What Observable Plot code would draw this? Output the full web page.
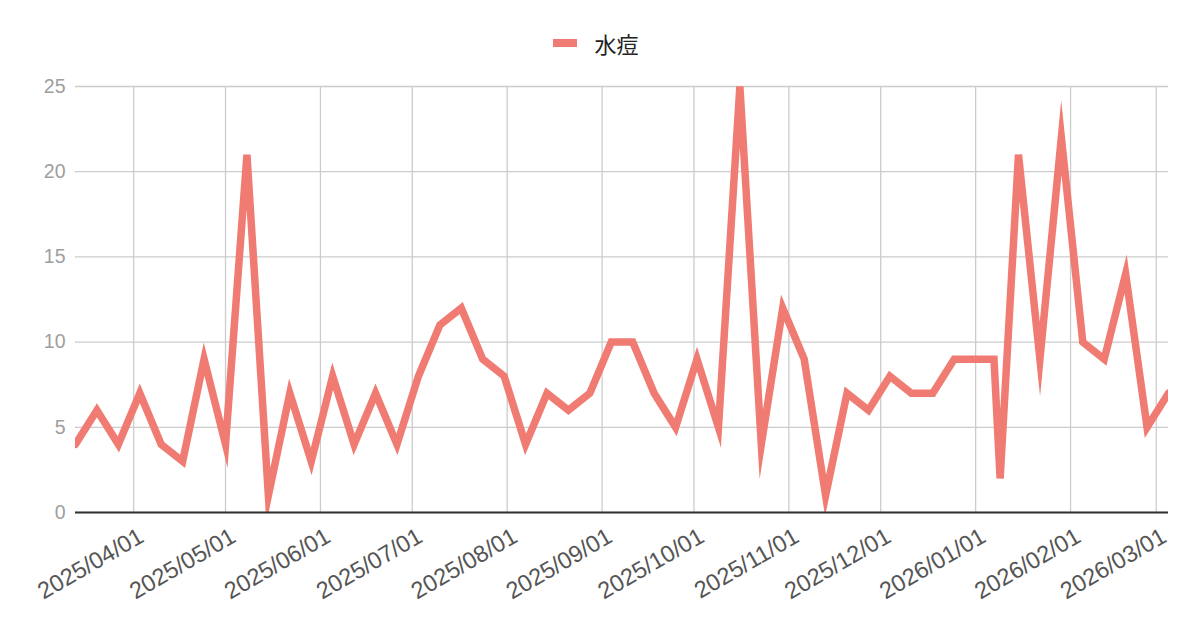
<!DOCTYPE html>
<html>
<head>
<meta charset="utf-8">
<script src="https://cdn.jsdelivr.net/npm/d3@7"></script>
<script src="https://cdn.jsdelivr.net/npm/@observablehq/plot@0.6"></script>
<style>
  html, body { margin: 0; padding: 0; background: #fff; }
  #legend { height: 70px; display: flex; justify-content: center; align-items: center; padding-top: 16px; box-sizing: border-box; font-family: "Noto Sans CJK JP", "Liberation Sans", Arial, sans-serif; font-size: 22px; color: #222; }
  #legend .sw { width: 24px; height: 8px; background: #f07b72; margin-right: 17px; margin-left: -8px; }
</style>
</head>
<body>
<div id="legend"><span class="sw"></span><span>水痘</span></div>
<div id="chart"></div>
<script>
const seriesName = "水痘";
const dates = [
  "2025-03-13","2025-03-20","2025-03-27","2025-04-03","2025-04-10","2025-04-17","2025-04-24",
  "2025-05-01","2025-05-08","2025-05-15","2025-05-22","2025-05-29","2025-06-05","2025-06-12",
  "2025-06-19","2025-06-26","2025-07-03","2025-07-10","2025-07-17","2025-07-24","2025-07-31",
  "2025-08-07","2025-08-14","2025-08-21","2025-08-28","2025-09-04","2025-09-11","2025-09-18",
  "2025-09-25","2025-10-02","2025-10-09","2025-10-16","2025-10-23","2025-10-30","2025-11-06",
  "2025-11-13","2025-11-20","2025-11-27","2025-12-04","2025-12-11","2025-12-18","2025-12-25",
  "2026-01-01","2026-01-07","2026-01-09","2026-01-15","2026-01-22","2026-01-29","2026-02-05",
  "2026-02-12","2026-02-19","2026-02-26","2026-03-05"
];
const values = [
  4, 6, 4, 7, 4, 3, 9,
  4, 21, 1, 7, 3, 8, 4,
  7, 4, 8, 11, 12, 9, 8,
  4, 7, 6, 7, 10, 10, 7,
  5, 9, 5, 25, 4, 12, 9,
  1, 7, 6, 8, 7, 7, 9,
  9, 9, 2, 21, 9, 22, 10,
  9, 14, 5, 7
];
const yTicks = [0, 5, 10, 15, 20, 25];
const monthTicks = [
  "2025-04-01","2025-05-01","2025-06-01","2025-07-01","2025-08-01","2025-09-01",
  "2025-10-01","2025-11-01","2025-12-01","2026-01-01","2026-02-01","2026-03-01"
];

const data = dates.map((d, i) => ({date: new Date(d), value: values[i]}));
const xTicks = monthTicks.map(d => new Date(d));

const chart = Plot.plot({
  width: 1200,
  height: 556,
  marginTop: 16,
  marginLeft: 75,
  marginRight: 32,
  marginBottom: 114,
  style: {fontFamily: "'Liberation Sans', Arial, sans-serif", background: "#fff"},
  x: {type: "utc", domain: [data[0].date, data[data.length - 1].date]},
  y: {domain: [0, 25]},
  marks: [
    Plot.ruleY(yTicks, {stroke: "#cccccc", strokeWidth: 1.3}),
    Plot.ruleX(xTicks, {stroke: "#cccccc", strokeWidth: 1.3}),
    Plot.line(data, {x: "date", y: "value", stroke: "#f07b72", strokeWidth: 7.5,
      strokeLinejoin: "miter", strokeMiterlimit: 11, clip: true}),
    Plot.ruleY([0], {stroke: "#333333", strokeWidth: 2}),
    Plot.axisY({ticks: yTicks, tickSize: 0, tickPadding: 10, fontSize: 19.5, fill: "#9e9e9e", label: null}),
    Plot.axisX({ticks: xTicks, tickFormat: "%Y/%m/%d", tickRotate: -30, tickSize: 0, tickPadding: 22,
      dx: 8, fontSize: 23.5, fill: "#555555", label: null})
  ]
});
document.getElementById("chart").appendChild(chart);
</script>
</body>
</html>
